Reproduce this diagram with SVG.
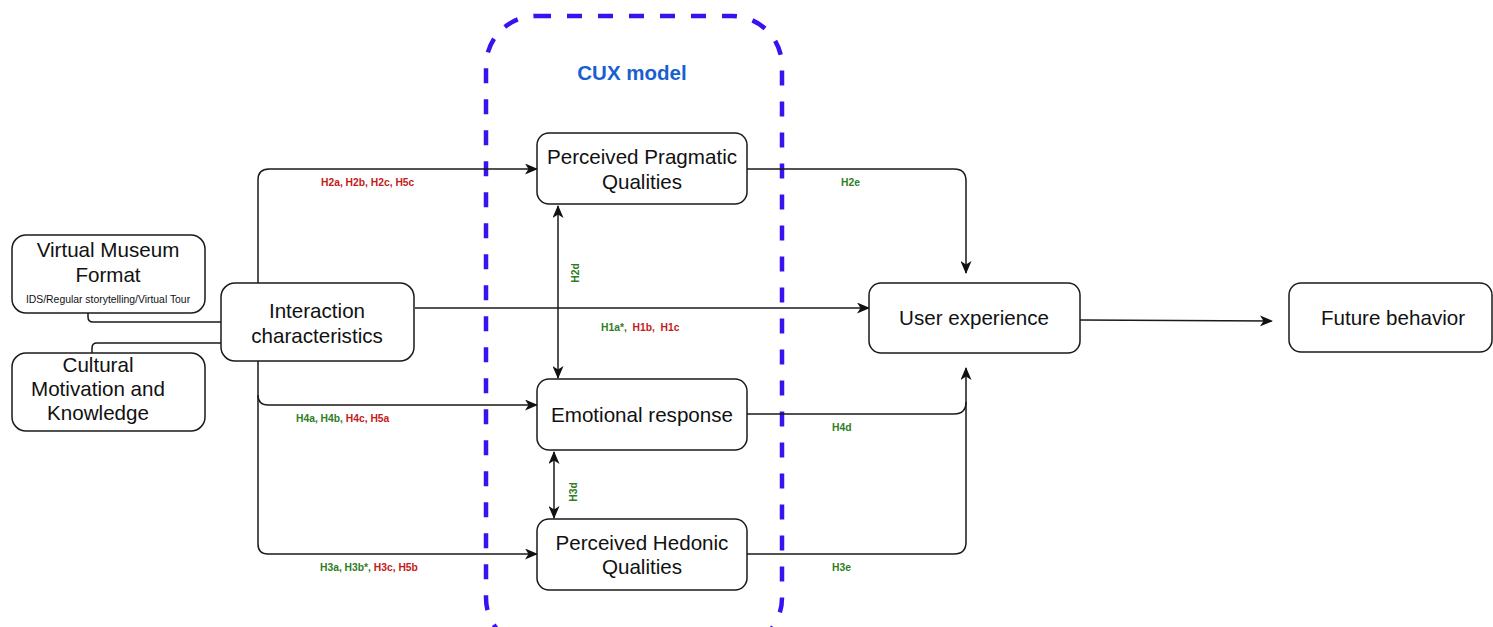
<svg xmlns="http://www.w3.org/2000/svg" width="1493" height="627" viewBox="0 0 1493 627">
  <style>
    .node rect { fill: #ffffff; stroke: #1a1a1a; stroke-width: 1.5; }
    .node text { font-family: "Liberation Sans", Arial, sans-serif; font-size: 20.6px; fill: #111111; text-anchor: middle; }
    .node text.small { font-size: 10.4px; }
    .edge { fill: none; stroke: #1a1a1a; stroke-width: 1.5; }
    .lbl { font-family: "Liberation Sans", Arial, sans-serif; font-size: 10.3px; font-weight: bold; }
    .g { fill: #2e7d1e; }
    .r { fill: #c41a1a; }
    .cux { fill: none; stroke: #3a12f0; stroke-width: 4.5; stroke-dasharray: 15 16; }
  </style>
  <defs>
    <marker id="arrow" viewBox="0 0 13 11" refX="12" refY="5.5" markerWidth="13" markerHeight="11" markerUnits="userSpaceOnUse" orient="auto-start-reverse">
      <path d="M0,0 L13,5.5 L0,11 L3.5,5.5 Z" fill="#111111"/>
    </marker>
  </defs>
  <rect width="1493" height="627" fill="#ffffff"/>

  <!-- CUX model boundary -->
  <g id="cux-model">
    <rect class="cux" x="486" y="16" width="296" height="632" rx="50"/>
    <text x="632" y="80" font-family="Liberation Sans, Arial, sans-serif" font-size="20.5px" font-weight="bold" fill="#1a5fcf" text-anchor="middle">CUX model</text>
  </g>

  <!-- connectors -->
  <g id="connectors">
    <path class="edge" d="M88,313 L88,317 Q88,322 93,322 L221,322"/>
    <path class="edge" d="M92,353 L92,348 Q92,343 97,343 L221,343"/>
    <path class="edge" d="M258,283 L258,180 Q258,169 269,169 L537,169" marker-end="url(#arrow)"/>
    <path class="edge" d="M258,361 L258,395 Q258,405 268,405 L537,405" marker-end="url(#arrow)"/>
    <path class="edge" d="M258,395 L258,544 Q258,554 268,554 L537,554" marker-end="url(#arrow)"/>
    <path class="edge" d="M415,308 L869,308" marker-end="url(#arrow)"/>
    <path class="edge" d="M747,169 L954,169 Q966,169 966,181 L966,273" marker-end="url(#arrow)"/>
    <path class="edge" d="M747,414 L954,414 Q966,414 966,402 L966,368" marker-end="url(#arrow)"/>
    <path class="edge" d="M747,554 L954,554 Q966,554 966,542 L966,402"/>
    <path class="edge" d="M1080,320 Q1160,320 1272,321" marker-end="url(#arrow)"/>
    <path class="edge" d="M558,206 L558,378" marker-start="url(#arrow)" marker-end="url(#arrow)"/>
    <path class="edge" d="M554,452 L554,518" marker-start="url(#arrow)" marker-end="url(#arrow)"/>
  </g>

  <!-- hypothesis labels -->
  <g id="labels">
    <text class="lbl r" x="321" y="186">H2a, H2b, H2c, H5c</text>
    <text class="lbl" x="296" y="422"><tspan class="g">H4a, H4b, </tspan><tspan class="r">H4c, H5a</tspan></text>
    <text class="lbl" x="320" y="571"><tspan class="g">H3a, H3b*, </tspan><tspan class="r">H3c, H5b</tspan></text>
    <text class="lbl" x="601" y="331" xml:space="preserve"><tspan class="g">H1a*,  </tspan><tspan class="r">H1b,  H1c</tspan></text>
    <text class="lbl g" x="841" y="186">H2e</text>
    <text class="lbl g" x="832" y="431">H4d</text>
    <text class="lbl g" x="832" y="571">H3e</text>
    <text class="lbl g" transform="translate(579,273) rotate(-90)" text-anchor="middle">H2d</text>
    <text class="lbl g" transform="translate(577,492) rotate(-90)" text-anchor="middle">H3d</text>
  </g>

  <!-- nodes -->
  <g id="virtual-museum-format" class="node">
    <rect x="12" y="235" width="193" height="78" rx="14"/>
    <text x="108" y="257">Virtual Museum</text>
    <text x="108" y="282">Format</text>
    <text class="small" x="108" y="303">IDS/Regular storytelling/Virtual Tour</text>
  </g>
  <g id="cultural-motivation" class="node">
    <rect x="12" y="353" width="193" height="78" rx="14"/>
    <text x="98" y="372">Cultural</text>
    <text x="98" y="396">Motivation and</text>
    <text x="98" y="420">Knowledge</text>
  </g>
  <g id="interaction-characteristics" class="node">
    <rect x="221" y="283" width="193" height="78" rx="14"/>
    <text x="317" y="318">Interaction</text>
    <text x="317" y="343">characteristics</text>
  </g>
  <g id="pragmatic-qualities" class="node">
    <rect x="537" y="133" width="210" height="71" rx="12"/>
    <text x="642" y="164">Perceived Pragmatic</text>
    <text x="642" y="189">Qualities</text>
  </g>
  <g id="emotional-response" class="node">
    <rect x="537" y="379" width="210" height="71" rx="12"/>
    <text x="642" y="422">Emotional response</text>
  </g>
  <g id="hedonic-qualities" class="node">
    <rect x="537" y="519" width="210" height="71" rx="12"/>
    <text x="642" y="550">Perceived Hedonic</text>
    <text x="642" y="574">Qualities</text>
  </g>
  <g id="user-experience" class="node">
    <rect x="869" y="283" width="211" height="70" rx="12"/>
    <text x="974" y="325">User experience</text>
  </g>
  <g id="future-behavior" class="node">
    <rect x="1289" y="283" width="203" height="69" rx="12"/>
    <text x="1393" y="325">Future behavior</text>
  </g>
</svg>
